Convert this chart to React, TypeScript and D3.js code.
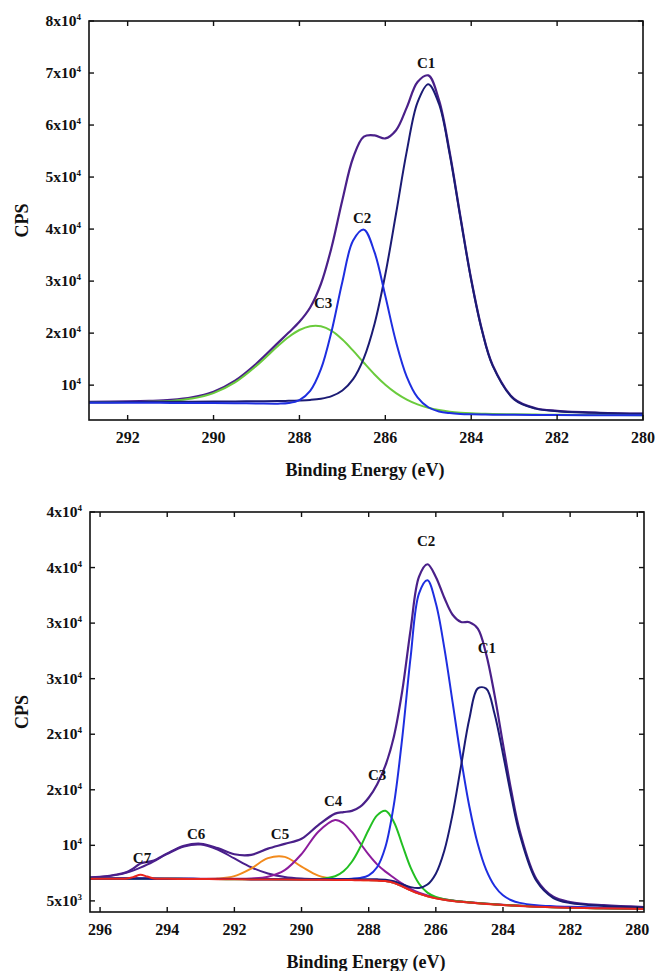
import React from 'react';
import * as d3 from 'd3';

// ---------- Top panel data (binding energy, eV; counts per second) ----------
const TOP_ENERGY = [292.9, 292, 291.5, 291, 290.5, 290, 289.5, 289, 288.5, 288.25, 288, 287.75, 287.5, 287.25, 287, 286.75, 286.5, 286.25, 286, 285.75, 285.5, 285.25, 285, 284.75, 284.5, 284.25, 284, 283.75, 283.5, 283, 282.5, 282, 281, 280];
const TOP_BACKGROUND = [6600, 6600, 6600, 6590, 6580, 6560, 6530, 6480, 6400, 6350, 6300, 6240, 6170, 6100, 6020, 5930, 5820, 5680, 5540, 5380, 5210, 5030, 4860, 4700, 4570, 4470, 4400, 4360, 4330, 4290, 4260, 4240, 4210, 4200];
const TOP_C1 = [113, 145, 170, 195, 233, 284, 347, 435, 554, 640, 756, 926, 1222, 1789, 2961, 5229, 9387, 16128, 25767, 37611, 49770, 59346, 63000, 59346, 49770, 37611, 25767, 16128, 9387, 2961, 1222, 756, 435, 284];
const TOP_C2 = [0, 0, 0, 0, 0, 0, 0, 0, 40, 202, 820, 2657, 6898, 14330, 23870, 31857, 34071, 29829, 21580, 12914, 6395, 2616, 886, 247, 58, 0, 0, 0, 0, 0, 0, 0, 0, 0];
const TOP_C3 = [93, 139, 205, 376, 832, 1899, 3986, 7240, 11126, 12912, 14298, 15096, 15154, 14325, 12745, 10696, 8483, 6373, 4539, 3089, 2017, 1278, 796, 505, 332, 235, 180, 146, 125, 97, 80, 67, 49, 37];
const TOP_ENVELOPE = [6806, 6884, 6975, 7161, 7645, 8743, 10863, 14155, 18120, 20104, 22174, 24919, 29444, 36544, 45596, 53712, 57761, 58010, 57426, 58994, 63392, 68270, 69542, 64798, 54730, 42316, 30347, 20634, 13842, 7348, 5562, 5063, 4694, 4521];
const TOP_X_TICKS = [292, 290, 288, 286, 284, 282, 280];
const TOP_Y_TICKS = [10000, 20000, 30000, 40000, 50000, 60000, 70000, 80000];
const TOP_Y_LABELS = ['10', '2x10', '3x10', '4x10', '5x10', '6x10', '7x10', '8x10'];
const TOP_Y_EXP = ['4', '4', '4', '4', '4', '4', '4', '4'];
const TOP_PEAK_NAMES = ['C1', 'C2', 'C3'];
const TOP_PEAK_LABEL_E = [285.05, 286.54, 287.45];
const TOP_PEAK_LABEL_V = [71000, 41170, 24830];

// ---------- Bottom panel data ----------
const BOT_ENERGY = [296.3, 296, 295.5, 295.2, 295, 294.8, 294.6, 294.4, 294, 293.5, 293, 292.5, 292, 291.5, 291, 290.5, 290, 289.5, 289, 288.75, 288.5, 288.25, 288, 287.75, 287.5, 287.25, 287, 286.75, 286.5, 286.25, 286, 285.75, 285.5, 285.25, 285, 284.75, 284.5, 284.25, 284, 283.75, 283.5, 283, 282.5, 282, 281, 279.8];
const BOT_BACKGROUND = [7000, 7000, 7000, 7000, 7000, 7000, 6995, 6990, 6985, 6975, 6965, 6955, 6945, 6935, 6925, 6915, 6905, 6895, 6885, 6878, 6870, 6862, 6850, 6830, 6780, 6620, 6300, 5950, 5650, 5420, 5240, 5100, 5000, 4920, 4850, 4790, 4730, 4680, 4630, 4590, 4550, 4480, 4430, 4390, 4330, 4280];
const BOT_C1 = [8, 9, 9, 10, 10, 11, 11, 12, 13, 14, 16, 18, 20, 23, 27, 32, 38, 46, 56, 63, 71, 81, 93, 108, 126, 154, 197, 288, 512, 1048, 2206, 4391, 7819, 12208, 16562, 19339, 19375, 17143, 13595, 9775, 6438, 2303, 827, 422, 217, 125];
const BOT_C2 = [6, 6, 7, 8, 8, 8, 9, 9, 10, 12, 13, 16, 18, 22, 27, 34, 43, 57, 79, 95, 129, 205, 448, 1193, 3087, 7030, 13378, 21010, 27024, 28430, 26541, 22716, 17860, 12918, 8619, 5324, 3058, 1660, 873, 468, 271, 131, 91, 73, 49, 33];
const BOT_C3 = [2, 2, 2, 3, 3, 3, 3, 3, 4, 4, 5, 6, 8, 9, 12, 17, 23, 59, 329, 786, 1653, 2980, 4555, 5866, 6325, 5489, 3754, 2040, 894, 327, 113, 47, 28, 21, 17, 14, 12, 10, 9, 8, 7, 6, 5, 4, 3, 2];
const BOT_C4 = [8, 9, 10, 11, 12, 13, 14, 15, 17, 21, 26, 34, 47, 85, 249, 853, 2306, 4335, 5400, 5108, 4335, 3321, 2306, 1458, 853, 466, 249, 138, 85, 60, 47, 39, 34, 29, 26, 23, 21, 19, 17, 15, 14, 12, 10, 9, 7, 5];
const BOT_C5 = [2, 2, 3, 3, 3, 3, 4, 4, 5, 7, 13, 54, 282, 978, 1921, 2045, 1175, 377, 75, 33, 17, 10, 8, 7, 6, 5, 4, 4, 4, 3, 3, 3, 3, 2, 2, 2, 2, 2, 2, 2, 2, 1, 1, 1, 1, 1];
const BOT_C6 = [88, 144, 341, 556, 749, 987, 1266, 1577, 2241, 2924, 3105, 2667, 1874, 1094, 539, 234, 100, 49, 31, 27, 23, 21, 19, 17, 16, 15, 14, 12, 12, 11, 10, 9, 9, 8, 8, 7, 7, 7, 6, 6, 6, 5, 5, 5, 4, 3];
const BOT_C7 = [0, 0, 0, 16, 151, 348, 200, 29, 0, 0, 0, 0, 0, 0, 0, 0, 0, 0, 0, 0, 0, 0, 0, 0, 0, 0, 0, 0, 0, 0, 0, 0, 0, 0, 0, 0, 0, 0, 0, 0, 0, 0, 0, 0, 0, 0];
const BOT_ENVELOPE = [7114, 7172, 7372, 7607, 7936, 8373, 8502, 8639, 9275, 9957, 10143, 9750, 9194, 9146, 9700, 10130, 10590, 11818, 12855, 12990, 13098, 13480, 14279, 15479, 17193, 19779, 23896, 29442, 34181, 35299, 34160, 32305, 30753, 30106, 30084, 29499, 27205, 23521, 19132, 14864, 11288, 6938, 5369, 4904, 4611, 4449];
const BOT_X_TICKS = [296, 294, 292, 290, 288, 286, 284, 282, 280];
const BOT_Y_TICKS = [5000, 10000, 15000, 20000, 25000, 30000, 35000, 40000];
const BOT_Y_LABELS = ['5x10', '10', '2x10', '2x10', '3x10', '3x10', '4x10', '4x10'];
const BOT_Y_EXP = ['3', '4', '4', '4', '4', '4', '4', '4'];
const BOT_PEAK_NAMES = ['C1', 'C2', 'C3', 'C4', 'C5', 'C6', 'C7'];
const BOT_PEAK_LABEL_E = [284.48, 286.29, 287.75, 289.06, 290.64, 293.14, 294.75];
const BOT_PEAK_LABEL_V = [27310, 36940, 15880, 13540, 10570, 10570, 8410];

const FONT = "'Liberation Serif', 'Times New Roman', Times, serif";
const ENV_COLOR = '#4a2089';

type Comp = { values: number[]; color: string };

type PanelProps = {
  id: string;
  energy: number[];
  background: number[];
  comps: Comp[];
  envelope: number[];
  after: Comp[];
  xDomain: [number, number];
  yDomain: [number, number];
  left: number;
  right: number;
  top: number;
  bottom: number;
  xTicks: number[];
  yTicks: number[];
  yLabels: string[];
  yExp: string[];
  peakNames: string[];
  peakE: number[];
  peakV: number[];
  titleY: number;
};

function Panel(p: PanelProps) {
  const x = d3.scaleLinear().domain(p.xDomain).range([p.left, p.right]);
  const y = d3.scaleLinear().domain(p.yDomain).range([p.bottom, p.top]);
  const line = d3
    .line<[number, number]>()
    .x((d) => x(d[0]))
    .y((d) => y(d[1]))
    .curve(d3.curveCatmullRom.alpha(0.5));
  const compPath = (vals: number[]) =>
    line(p.energy.map((e, i) => [e, p.background[i] + vals[i]] as [number, number])) || '';
  const envPath = line(p.energy.map((e, i) => [e, p.envelope[i]] as [number, number])) || '';
  const tk = 5;
  return (
    <g>
      <defs>
        <clipPath id={p.id + '-clip'}>
          <rect x={p.left} y={p.top} width={p.right - p.left} height={p.bottom - p.top} />
        </clipPath>
      </defs>
      <g clipPath={`url(#${p.id}-clip)`} fill="none" strokeLinejoin="round" strokeLinecap="round">
        <path d={envPath} stroke={ENV_COLOR} strokeWidth={2.2} />
        {p.comps.map((c, i) => (
          <path key={i} d={compPath(c.values)} stroke={c.color} strokeWidth={2} />
        ))}
        {p.after.map((c, i) => (
          <path key={'a' + i} d={compPath(c.values)} stroke={c.color} strokeWidth={2} />
        ))}
      </g>
      <rect x={p.left} y={p.top} width={p.right - p.left} height={p.bottom - p.top} fill="none" stroke="#111" strokeWidth={1.6} />
      {p.xTicks.map((t) => (
        <g key={'x' + t}>
          <line x1={x(t)} x2={x(t)} y1={p.bottom} y2={p.bottom - tk} stroke="#111" strokeWidth={1.4} />
          <line x1={x(t)} x2={x(t)} y1={p.top} y2={p.top + tk} stroke="#111" strokeWidth={1.4} />
          <text x={x(t)} y={p.bottom + 23} textAnchor="middle" fontFamily={FONT} fontWeight="bold" fontSize={16} fill="#111">
            {t}
          </text>
        </g>
      ))}
      {p.yTicks.map((t, i) => (
        <g key={'y' + t}>
          <line x1={p.left} x2={p.left + tk} y1={y(t)} y2={y(t)} stroke="#111" strokeWidth={1.4} />
          <line x1={p.right} x2={p.right - tk} y1={y(t)} y2={y(t)} stroke="#111" strokeWidth={1.4} />
          <text x={p.left - 8} y={y(t) + 5} textAnchor="end" fontFamily={FONT} fontWeight="bold" fontSize={15.5} fill="#111">
            <tspan>{p.yLabels[i]}</tspan>
            <tspan dy={-6} fontSize={9}>{p.yExp[i]}</tspan>
          </text>
        </g>
      ))}
      {p.peakNames.map((n, i) => (
        <text key={n} x={x(p.peakE[i])} y={y(p.peakV[i])} textAnchor="middle" fontFamily={FONT} fontWeight="bold" fontSize={15} fill="#111">
          {n}
        </text>
      ))}
      <text
        transform={`translate(28, ${(p.top + p.bottom) / 2}) rotate(-90)`}
        textAnchor="middle"
        fontFamily={FONT}
        fontWeight="bold"
        fontSize={18}
        fill="#111"
      >
        CPS
      </text>
      <text x={(p.left + p.right) / 2 - 1} y={p.titleY} textAnchor="middle" fontFamily={FONT} fontWeight="bold" fontSize={18} fill="#111">
        Binding Energy (eV)
      </text>
    </g>
  );
}

export default function App() {
  return (
    <svg
      width={657}
      height={971}
      viewBox="0 0 657 971"
      style={{ position: 'absolute', left: 0, top: 0, display: 'block', background: '#fff' }}
    >
      <rect x={0} y={0} width={657} height={971} fill="#fff" />
      <Panel
        id="top"
        energy={TOP_ENERGY}
        background={TOP_BACKGROUND}
        envelope={TOP_ENVELOPE}
        comps={[
          { values: TOP_C3, color: '#6acb3c' },
          { values: TOP_C1, color: '#1b1b74' },
          { values: TOP_C2, color: '#1e2ee0' },
        ]}
        after={[]}
        xDomain={[292.9, 280]}
        yDomain={[3300, 80000]}
        left={89}
        right={643}
        top={21}
        bottom={420}
        xTicks={TOP_X_TICKS}
        yTicks={TOP_Y_TICKS}
        yLabels={TOP_Y_LABELS}
        yExp={TOP_Y_EXP}
        peakNames={TOP_PEAK_NAMES}
        peakE={TOP_PEAK_LABEL_E}
        peakV={TOP_PEAK_LABEL_V}
        titleY={476}
      />
      <Panel
        id="bot"
        energy={BOT_ENERGY}
        background={BOT_BACKGROUND}
        envelope={BOT_ENVELOPE}
        comps={[
          { values: BOT_C6, color: '#4a1f8c' },
          { values: BOT_C5, color: '#f28a1c' },
          { values: BOT_C4, color: '#8c1c9c' },
          { values: BOT_C3, color: '#22bf22' },
          { values: BOT_C2, color: '#1e2ee0' },
          { values: BOT_C1, color: '#1b1b74' },
        ]}
        after={[{ values: BOT_C7, color: '#e8251e' }]}
        xDomain={[296.3, 279.8]}
        yDomain={[4000, 40000]}
        left={90}
        right={644}
        top={512}
        bottom={912}
        xTicks={BOT_X_TICKS}
        yTicks={BOT_Y_TICKS}
        yLabels={BOT_Y_LABELS}
        yExp={BOT_Y_EXP}
        peakNames={BOT_PEAK_NAMES}
        peakE={BOT_PEAK_LABEL_E}
        peakV={BOT_PEAK_LABEL_V}
        titleY={968}
      />
    </svg>
  );
}
